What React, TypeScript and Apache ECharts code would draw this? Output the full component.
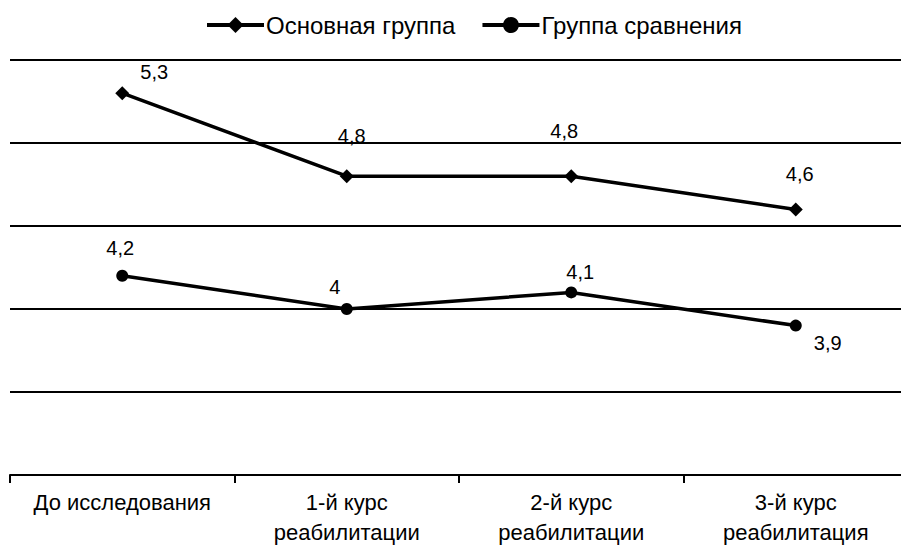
import React, { useEffect, useRef } from "react";
import * as echarts from "echarts";

const categories = [
  "До исследования",
  "1-й курс\nреабилитации",
  "2-й курс\nреабилитации",
  "3-й курс\nреабилитация",
];
const seriesNames = ["Основная группа", "Группа сравнения"];
const mainGroup = [5.3, 4.8, 4.8, 4.6];
const comparisonGroup = [4.2, 4.0, 4.1, 3.9];

const mainOffsets = [
  [32, -21],
  [5, -40],
  [-7, -45],
  [4, -35],
];
const comparisonOffsets = [
  [-2, -28],
  [-12, -22],
  [9, -20],
  [32, 17],
];

const FONT = "'Liberation Sans', Arial, sans-serif";

const fmt = (v: number) => String(v).replace(".", ",");

export default function App() {
  const ref = useRef<HTMLDivElement>(null);
  useEffect(() => {
    if (!ref.current) return;
    const chart = echarts.init(ref.current, undefined, { renderer: "svg" });
    const mk = (vals: number[], offs: number[][]) =>
      vals.map((v, i) => ({
        value: v,
        label: { offset: offs[i] },
      }));
    const labelBase = {
      show: true,
      position: "inside",
      align: "center",
      verticalAlign: "middle",
      fontSize: 20,
      fontFamily: FONT,
      color: "#000",
      formatter: (p: any) => fmt(p.value),
    };
    chart.setOption({
      animation: false,
      backgroundColor: "#fff",
      textStyle: { fontFamily: FONT },
      legend: {
        left: 205,
        top: 13,
        padding: 0,
        itemWidth: 57,
        itemHeight: 20,
        itemGap: 25,
        textStyle: { fontSize: 24, color: "#000", fontFamily: FONT, padding: [0, 0, 0, -3] },
        lineStyle: { width: 4 },
        data: seriesNames,
      },
      grid: {
        left: 10,
        right: -7,
        top: 60,
        bottom: 72,
        containLabel: false,
        outerBoundsMode: "none",
      },
      xAxis: {
        type: "category",
        data: categories,
        boundaryGap: true,
        axisLine: { show: true, lineStyle: { color: "#000", width: 2 } },
        axisTick: { show: true, length: 8, lineStyle: { color: "#000", width: 2 } },
        axisLabel: {
          color: "#000",
          fontSize: 22,
          fontFamily: FONT,
          lineHeight: 30,
          margin: 12,
          interval: 0,
        },
      },
      yAxis: {
        type: "value",
        min: 3,
        max: 5.5,
        interval: 0.5,
        axisLabel: { show: false },
        axisLine: { show: false },
        axisTick: { show: false },
        splitLine: { show: true, lineStyle: { color: "#000", width: 1.8 } },
      },
      series: [
        {
          name: seriesNames[0],
          type: "line",
          data: mk(mainGroup, mainOffsets),
          symbol: "diamond",
          symbolSize: 14,
          lineStyle: { color: "#000", width: 3.5 },
          itemStyle: { color: "#000" },
          label: labelBase,
          z: 3,
        },
        {
          name: seriesNames[1],
          type: "line",
          data: mk(comparisonGroup, comparisonOffsets),
          symbol: "circle",
          symbolSize: 12,
          lineStyle: { color: "#000", width: 3.5 },
          itemStyle: { color: "#000" },
          label: labelBase,
          z: 3,
        },
      ],
    });
    return () => chart.dispose();
  }, []);
  return (
    <div
      ref={ref}
      style={{ position: "fixed", left: 0, top: 0, width: 901, height: 547 }}
    />
  );
}
